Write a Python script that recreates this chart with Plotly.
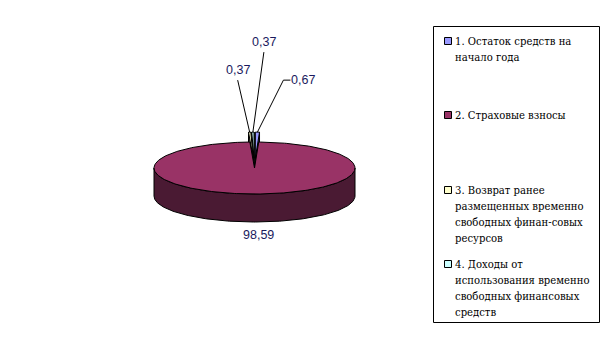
import numpy as np
import plotly.graph_objects as go

# ---- data ----
labels = [
    "1. Остаток средств на<br>начало года",
    "2. Страховые взносы",
    "3. Возврат ранее<br>размещенных временно<br>свободных финан-совых<br>ресурсов",
    "4. Доходы от<br>использования временно<br>свободных финансовых<br>средств",
]
values = [0.67, 98.59, 0.37, 0.37]

# ---- style ----
top_colors = ["#9999FF", "#993366", "#FFFFCC", "#CCFFFF"]
side_colors = ["#4D4D80", "#4A1A33", "#808066", "#668080"]
explode = [0.38, 0.0, 0.38, 0.38]
label_offset = [(46, -52), (4, 13), (-12, -62), (11, -90)]   # label centre relative to anchor
leader = ["elbow", None, "below", "below"]

W, H = 608, 355
CX, CY, RX, RY, DEPTH = 254.5, 168.0, 100.5, 26.0, 28.0
LABEL_FONT = dict(family="Liberation Sans", size=12.5, color="#1a1a5e")
LEG_FONT = dict(family="DejaVu Serif Condensed, DejaVu Serif", size=11.2, color="#000000")

total = float(sum(values))
starts = np.concatenate([[0.0], np.cumsum(values)[:-1]]) / total * 360.0
ends = np.cumsum(values) / total * 360.0
mids = (starts + ends) / 2.0


def pt(theta, r, ox, oy, dz=0.0):
    t = np.radians(theta)
    return CX + ox + r * RX * np.sin(t), CY + oy - r * RY * np.cos(t) + dz


def arc(a0, a1, ox, oy, dz=0.0):
    n = max(2, int(abs(a1 - a0)) + 2)
    th = np.linspace(a0, a1, n)
    xs, ys = pt(th, 1.0, ox, oy, dz)
    return list(xs), list(ys)


fig = go.Figure()


def poly(xs, ys, fill):
    fig.add_trace(go.Scatter(
        x=list(xs) + [xs[0]], y=list(ys) + [ys[0]], mode="lines", fill="toself",
        fillcolor=fill, line=dict(color="black", width=1),
        hoverinfo="skip", showlegend=False))


order = sorted(range(len(values)), key=lambda i: -np.cos(np.radians(mids[i])))
anchors = {}
for i in order:
    a0, a1, m = starts[i], ends[i], mids[i]
    ox = explode[i] * RX * np.sin(np.radians(m))
    oy = -explode[i] * RY * np.cos(np.radians(m))
    cx0, cy0 = CX + ox, CY + oy
    # radial walls
    for a in (a0, a1):
        ex, ey = pt(a, 1.0, ox, oy)
        poly([cx0, ex, ex, cx0], [cy0, ey, ey + DEPTH, cy0 + DEPTH], side_colors[i])
    # front outer wall
    f0, f1 = max(a0, 90.0), min(a1, 270.0)
    if f1 > f0:
        tx, ty = arc(f0, f1, ox, oy)
        bx, by = arc(f0, f1, ox, oy, DEPTH)
        poly(tx + bx[::-1], ty + by[::-1], side_colors[i])
    # top face
    tx, ty = arc(a0, a1, ox, oy)
    poly([cx0] + tx, [cy0] + ty, top_colors[i])
    # label anchor
    if f0 <= m <= f1:
        anchors[i] = pt(m, 1.0, ox, oy, DEPTH)
    else:
        anchors[i] = pt(m, 1.0, ox, oy)

annotations = []
for i, v in enumerate(values):
    ax_, ay_ = anchors[i]
    lx, ly = ax_ + label_offset[i][0], ay_ + label_offset[i][1]
    txt = f"{v:.2f}".replace(".", ",")
    annotations.append(dict(x=lx, y=ly, text=txt, showarrow=False, font=LABEL_FONT,
                            xanchor="center", yanchor="middle"))
    if leader[i] == "below":
        fig.add_trace(go.Scatter(x=[lx, ax_], y=[ly + 10, ay_], mode="lines",
                                 line=dict(color="black", width=1),
                                 hoverinfo="skip", showlegend=False))
    elif leader[i] == "elbow":
        fig.add_trace(go.Scatter(x=[lx - 13, lx - 20, ax_], y=[ly, ly, ay_], mode="lines",
                                 line=dict(color="black", width=1),
                                 hoverinfo="skip", showlegend=False))

# ---- legend (drawn by hand) ----
shapes = [dict(type="rect", xref="x", yref="y", x0=433.5, x1=599.5, y0=26.5, y1=322.5,
               line=dict(color="black", width=1), fillcolor="rgba(0,0,0,0)")]
legend_first_line_y = [41, 115, 190, 264]
LINE_STEP = 16
for i, lab in enumerate(labels):
    y0 = legend_first_line_y[i]
    shapes.append(dict(type="rect", xref="x", yref="y", x0=444.5, x1=451.5,
                       y0=y0 - 3.5, y1=y0 + 3.5, line=dict(color="black", width=1),
                       fillcolor=top_colors[i]))
    for k, line in enumerate(lab.split("<br>")):
        annotations.append(dict(x=453, y=y0 + k * LINE_STEP, text=line, showarrow=False,
                                font=LEG_FONT, xanchor="left", yanchor="middle"))

fig.update_layout(
    width=W, height=H, margin=dict(l=0, r=0, t=0, b=0),
    paper_bgcolor="white", plot_bgcolor="white",
    xaxis=dict(range=[0, W], visible=False, fixedrange=True),
    yaxis=dict(range=[H, 0], visible=False, fixedrange=True),
    shapes=shapes, annotations=annotations, showlegend=False,
)

fig.write_html("out.html")
